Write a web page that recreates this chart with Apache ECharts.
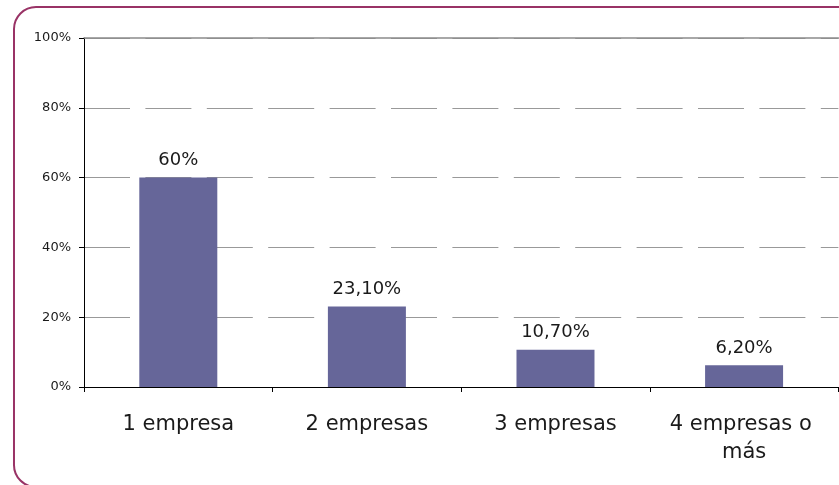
<!DOCTYPE html>
<html>
<head>
<meta charset="utf-8">
<script src="https://cdn.jsdelivr.net/npm/echarts@6/dist/echarts.min.js"></script>
<style>
html,body{margin:0;padding:0;background:#fff;}
#chart{width:839px;height:485px;}
</style>
</head>
<body>
<div id="chart"></div>
<script>
var categories = ["1 empresa", "2 empresas", "3 empresas", "4 empresas o más"];
var values = [60, 23.1, 10.7, 6.2];
var valueLabels = ["60%", "23,10%", "10,70%", "6,20%"];
var yTicks = [0, 20, 40, 60, 80, 100];

var chart = echarts.init(document.getElementById('chart'));
chart.setOption({
  animation: false,
  backgroundColor: '#ffffff',
  graphic: [{
    type: 'rect',
    shape: { x: 14, y: 7, width: 860, height: 480, r: 22 },
    style: { fill: 'none', stroke: '#993366', lineWidth: 2 },
    silent: true
  }],
  grid: { left: 84, top: 38, width: 759, height: 349 },
  xAxis: [{
    type: 'category',
    data: categories,
    position: 'bottom',
    axisLine: { lineStyle: { color: '#000', width: 1 } },
    axisTick: { show: true, length: 5, alignWithLabel: false, lineStyle: { color: '#000' } },
    axisLabel: {
      color: '#1a1a1a', fontFamily: 'DejaVu Sans', fontSize: 21, margin: 24,
      lineHeight: 28, width: 185, overflow: 'break', interval: 0
    }
  }, {
    type: 'category',
    data: categories,
    position: 'top',
    axisLine: { lineStyle: { color: '#8c8c8c', width: 1.5 } },
    axisTick: { show: false },
    axisLabel: { show: false }
  }],
  yAxis: {
    type: 'value',
    min: yTicks[0], max: yTicks[yTicks.length - 1], interval: 20,
    axisLine: { show: true, lineStyle: { color: '#000', width: 1 } },
    axisTick: { show: true, length: 5, lineStyle: { color: '#000' } },
    axisLabel: { formatter: '{value}%', color: '#1a1a1a', fontFamily: 'DejaVu Sans', fontSize: 13, margin: 13 },
    splitLine: { show: true, lineStyle: { color: '#999', width: 1, type: [46, 15.4] } }
  },
  series: [{
    type: 'bar',
    xAxisIndex: 0,
    data: values,
    barWidth: 78,
    itemStyle: { color: '#666699' },
    label: {
      show: true, position: 'top', distance: 8,
      fontFamily: 'DejaVu Sans', fontSize: 18, color: '#1a1a1a',
      formatter: function (p) { return valueLabels[p.dataIndex]; }
    }
  }]
});
</script>
</body>
</html>
